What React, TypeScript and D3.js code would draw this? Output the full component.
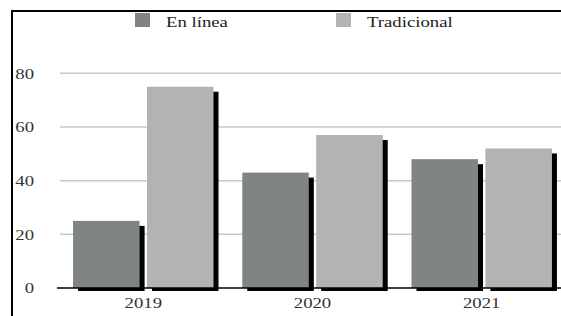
import { useEffect, useRef } from "react"
import * as d3 from "d3"

const years = ["2019", "2020", "2021"]
const series = ["En línea", "Tradicional"]
const enLinea = [25, 43, 48]
const tradicional = [75, 57, 52]
const yTicks = [0, 20, 40, 60, 80]

const colors = ["#7f8583", "#b3b3b3"]

export default function App() {
  const ref = useRef<SVGSVGElement>(null)

  useEffect(() => {
    const svg = d3.select(ref.current)
    svg.selectAll("*").remove()

    const x = d3.scaleBand<string>()
      .domain(years)
      .range([58, 567])
      .paddingInner(0.17)
      .paddingOuter(0.089)

    const xSub = d3.scaleBand<string>()
      .domain(series)
      .range([0, x.bandwidth()])
      .paddingInner(0.1)

    const y = d3.scaleLinear().domain([0, 80]).range([288, 73.3])

    const font = "'Liberation Serif', 'Times New Roman', serif"
    // text in the source looks stretched sideways
    const stretch = 1.25

    // Gridlines
    svg.append("g")
      .selectAll("line")
      .data(yTicks.filter(d => d > 0))
      .join("line")
      .attr("x1", 60)
      .attr("x2", 561)
      .attr("y1", d => y(d))
      .attr("y2", d => y(d))
      .attr("stroke", "#c8c8c8")
      .attr("stroke-width", 1.5)

    // Tick labels
    svg.append("g")
      .selectAll("text")
      .data(yTicks)
      .join("text")
      .attr("transform", d => `translate(34,${y(d)}) scale(${stretch},1)`)
      .attr("dy", "0.35em")
      .attr("text-anchor", "end")
      .attr("font-family", font)
      .attr("font-size", 15)
      .attr("fill", "#333")
      .text(d => d)

    const rows = years.map((yr, i) => ({ yr, vals: [enLinea[i], tradicional[i]] }))

    const groups = svg.append("g")
      .selectAll("g")
      .data(rows)
      .join("g")
      .attr("transform", d => `translate(${x(d.yr)},0)`)

    // Shadows
    groups.selectAll("rect.shadow")
      .data(d => d.vals.map((v, j) => ({ s: series[j], v, j })))
      .join("rect")
      .attr("class", "shadow")
      .attr("x", d => xSub(d.s)! + 5)
      .attr("y", d => y(d.v) + 5)
      .attr("width", xSub.bandwidth())
      .attr("height", d => y(0) + 3 - (y(d.v) + 5))
      .attr("fill", "#000")

    // Bars
    groups.selectAll("rect.bar")
      .data(d => d.vals.map((v, j) => ({ s: series[j], v, j })))
      .join("rect")
      .attr("class", "bar")
      .attr("x", d => xSub(d.s)!)
      .attr("y", d => y(d.v))
      .attr("width", xSub.bandwidth())
      .attr("height", d => y(0) - y(d.v))
      .attr("fill", d => colors[d.j])

    // Baseline
    svg.append("line")
      .attr("x1", 57)
      .attr("x2", 561)
      .attr("y1", y(0))
      .attr("y2", y(0))
      .attr("stroke", "#000")
      .attr("stroke-width", 1.5)

    // Year labels
    svg.append("g")
      .selectAll("text")
      .data(years)
      .join("text")
      .attr("transform", d => `translate(${x(d)! + x.bandwidth() / 2},308) scale(${stretch},1)`)
      .attr("text-anchor", "middle")
      .attr("font-family", font)
      .attr("font-size", 15)
      .attr("fill", "#333")
      .text(d => d)

    // Legend
    const legendX = [135, 336]
    series.forEach((s, i) => {
      svg.append("rect")
        .attr("x", legendX[i])
        .attr("y", 13)
        .attr("width", 15)
        .attr("height", 14)
        .attr("fill", colors[i])
      svg.append("text")
        .attr("transform", `translate(${legendX[i] + 31},27) scale(${stretch},1)`)
        .attr("font-family", font)
        .attr("font-size", 15)
        .attr("fill", "#222")
        .text(s)
    })

    // Frame (top and left)
    svg.append("path")
      .attr("d", "M12,316 V11 H561")
      .attr("fill", "none")
      .attr("stroke", "#000")
      .attr("stroke-width", 2)
  }, [])

  return (
    <svg
      ref={ref}
      width={561}
      height={316}
      style={{ position: "absolute", left: 0, top: 0, background: "#fff" }}
    />
  )
}
